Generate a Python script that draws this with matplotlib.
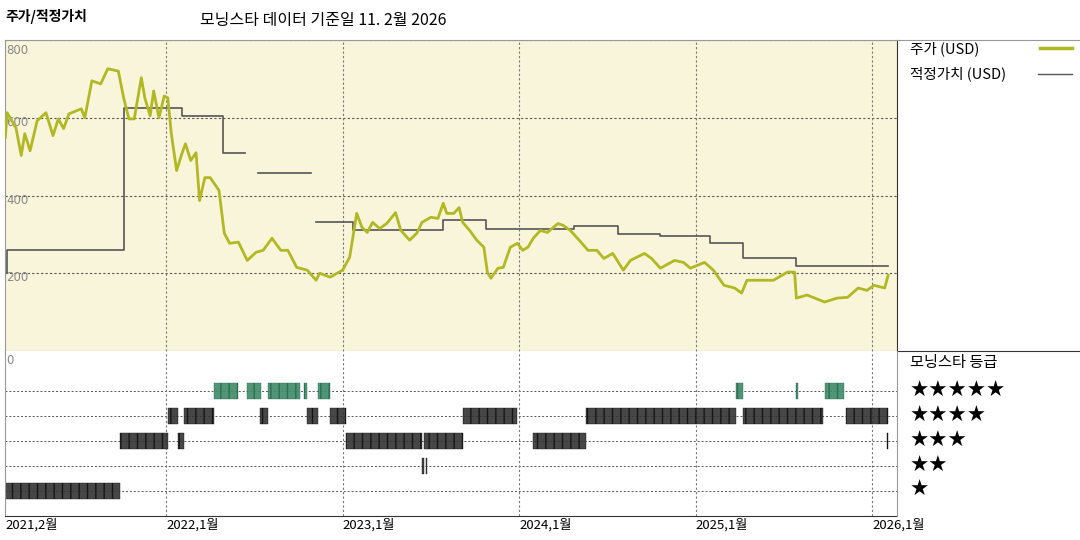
import matplotlib
matplotlib.use("Agg")
import matplotlib.pyplot as plt
from matplotlib.lines import Line2D

plt.rcParams['font.family'] = ['Noto Sans CJK KR', 'DejaVu Sans']

# ---- data (decimal years / USD) ----
price_t = [2021.09,2021.10,2021.15,2021.18,2021.20,2021.23,2021.27,2021.32,2021.36,2021.39,2021.42,2021.45,
           2021.52,2021.54,2021.58,2021.63,2021.67,2021.73,2021.76,2021.79,2021.82,2021.86,2021.88,2021.91,
           2021.93,2021.96,2021.99,2022.01,2022.03,2022.06,2022.09,2022.11,2022.14,2022.17,2022.19,2022.22,
           2022.25,2022.30,2022.33,2022.36,2022.41,2022.46,2022.51,2022.55,2022.60,2022.65,2022.69,2022.74,
           2022.80,2022.85,2022.87,2022.93,2023.00,2023.04,2023.08,2023.11,2023.14,2023.17,2023.21,2023.25,
           2023.30,2023.33,2023.38,2023.42,2023.45,2023.50,2023.54,2023.57,2023.59,2023.63,2023.66,2023.68,
           2023.72,2023.76,2023.80,2023.82,2023.84,2023.88,2023.91,2023.95,2023.99,2024.02,2024.05,2024.08,
           2024.12,2024.16,2024.22,2024.25,2024.29,2024.34,2024.39,2024.44,2024.48,2024.53,2024.59,2024.63,
           2024.71,2024.75,2024.80,2024.88,2024.93,2024.97,2025.05,2025.10,2025.16,2025.22,2025.26,2025.29,
           2025.37,2025.44,2025.52,2025.56,2025.57,2025.63,2025.73,2025.80,2025.86,2025.92,2025.97,2026.01,
           2026.07,2026.09]
price = [549,613,574,503,559,515,592,613,554,597,572,610,
         623,600,695,687,726,720,651,597,597,703,651,605,
         669,600,656,651,559,464,508,533,490,510,387,446,
         446,413,303,277,280,233,254,259,290,259,259,215,
         208,182,200,190,208,241,354,318,305,331,315,328,
         356,310,285,303,331,344,341,380,354,354,369,331,
         310,285,267,203,187,213,215,267,277,259,267,290,
         310,305,328,323,310,285,259,259,238,251,208,233,
         251,238,213,233,228,213,228,208,169,162,149,182,
         182,182,203,203,136,144,126,136,138,162,156,169,
         162,195]

fv_start = [2021.09,2021.10,2021.76,2022.09,2022.32,2022.52,2022.85,2023.06,2023.57,2023.81,2024.31,2024.56,2024.80,2025.08,2025.27,2025.57]
fv_end   = [2021.10,2021.76,2022.09,2022.32,2022.45,2022.82,2023.06,2023.57,2023.81,2024.31,2024.56,2024.80,2025.08,2025.27,2025.57,2026.09]
fv_value = [200,259,626,605,510,459,331,310,338,315,321,300,295,279,238,218]

rating_1 = [(2021.08, 2021.74)]
rating_2 = [(2023.45, 2023.46), (2023.47, 2023.48)]
rating_3 = [(2021.74, 2022.01), (2022.07, 2022.10), (2023.02, 2023.45), (2023.46, 2023.68),
            (2024.08, 2024.38), (2026.085, 2026.09)]
rating_4 = [(2022.01, 2022.07), (2022.10, 2022.27), (2022.53, 2022.58), (2022.80, 2022.86),
            (2022.93, 2023.02), (2023.68, 2023.99), (2024.38, 2025.23), (2025.27, 2025.72),
            (2025.85, 2026.09)]
rating_5 = [(2022.27, 2022.41), (2022.46, 2022.54), (2022.58, 2022.76), (2022.78, 2022.80),
            (2022.86, 2022.93), (2025.23, 2025.27), (2025.57, 2025.58), (2025.73, 2025.84)]

year_ticks = [2021.09, 2022.0, 2023.0, 2024.0, 2025.0, 2026.0]
year_labels = ["2021,2월", "2022,1월", "2023,1월", "2024,1월", "2025,1월", "2026,1월"]
price_ticks = [200, 400, 600, 800]

W, H = 1080, 540
XMIN, XMAX = 2021.088, 2026.14
PRICE_C = "#b2b823"; FV_C = "#555555"; BG = "#f9f5da"; GRID = "#555555"

fig = plt.figure(figsize=(W/100, H/100), dpi=100)
ax = fig.add_axes([5/W, 1-351/H, 892/W, 311/H])
ax2 = fig.add_axes([5/W, 1-516/H, 892/W, 165/H])

# price panel
ax.set_facecolor(BG)
ax.set_xlim(XMIN, XMAX); ax.set_ylim(0, 800)
for y in price_ticks:
    ax.axhline(y, color=GRID, lw=0.8, ls=(0, (2, 2)), zorder=1)
    ax.text(XMIN+0.005, y - (12 if y < 800 else 28), str(y), color="#888", fontsize=8.5,
            ha="left", va="center", family="DejaVu Sans")
for t in year_ticks[1:]:
    ax.axvline(t, color="#777", lw=0.8, ls=(0, (2, 2)), zorder=1)
ax.plot(price_t, price, color=PRICE_C, lw=2.0, zorder=3)
# fair value as stepped pieces
seg_x, seg_y = [], []
for s, e, v in zip(fv_start, fv_end, fv_value):
    if seg_x and abs(seg_x[-1] - s) > 1e-6:
        ax.plot(seg_x, seg_y, color=FV_C, lw=1.2, zorder=2); seg_x, seg_y = [], []
    seg_x += [s, e]; seg_y += [v, v]
ax.plot(seg_x, seg_y, color=FV_C, lw=1.2, zorder=2)
ax.set_xticks([]); ax.set_yticks([])
for sp in ax.spines.values():
    sp.set_color("#999"); sp.set_lw(0.8)
ax.spines["right"].set_color("#333")

# rating panel
ax2.set_xlim(XMIN, XMAX); ax2.set_ylim(0, 6.6)
rows = [(rating_1, 1, "#333333"), (rating_2, 2, "#333333"), (rating_3, 3, "#333333"),
        (rating_4, 4, "#333333"), (rating_5, 5, "#3e8a68")]
for segs, r, c in rows:
    ax2.axhline(r, color=GRID, lw=0.7, ls=(0, (2, 2)), zorder=1)
    ax2.broken_barh([(a, b - a) for a, b in segs], (r - 0.33, 0.66), facecolor=c,
                    edgecolor="#111111" if r < 5 else "#2a6a4e", lw=0.3, hatch="||", alpha=0.9, zorder=2)
for t in year_ticks[1:]:
    ax2.axvline(t, color="#777", lw=0.8, ls=(0, (2, 2)), zorder=1)
ax2.text(XMIN+0.005, 6.2, "0", color="#888", fontsize=8.5, ha="left", va="center", family="DejaVu Sans")
ax2.set_yticks([])
ax2.set_xticks(year_ticks)
ax2.set_xticklabels(year_labels, ha="left", fontsize=9.5)
ax2.tick_params(axis="x", length=0, pad=2)
for sp in ["top", "right"]:
    ax2.spines[sp].set_visible(False)
ax2.spines["left"].set_color("#999"); ax2.spines["bottom"].set_color("#333")

# right side frame lines
fig.add_artist(Line2D([897/W, 1], [1-40/H, 1-40/H], color="#999", lw=0.8))
fig.add_artist(Line2D([897/W, 1], [1-351/H, 1-351/H], color="#333", lw=0.8))
fig.add_artist(Line2D([897/W, 897/W], [1-516/H, 1-351/H], color="#999", lw=0.8))

# titles & legend
fig.text(5/W, 1-17/H, "주가/적정가치", fontsize=10, fontweight="bold", va="center")
fig.text(200/W, 1-20/H, "모닝스타 데이터 기준일 11. 2월 2026", fontsize=11.5, va="center")
fig.text(910/W, 1-49/H, "주가 (USD)", fontsize=10.5, va="center")
fig.add_artist(Line2D([1040/W, 1072/W], [1-48/H, 1-48/H], color=PRICE_C, lw=2.5))
fig.text(910/W, 1-74/H, "적정가치 (USD)", fontsize=10.5, va="center")
fig.add_artist(Line2D([1038/W, 1072/W], [1-74/H, 1-74/H], color=FV_C, lw=1))
fig.text(910/W, 1-362/H, "모닝스타 등급", fontsize=11, va="center")
for n, y in zip([5, 4, 3, 2, 1], [391, 416, 441, 466, 490]):
    fig.text(910/W, 1-y/H, "★" * n, fontsize=15.5, va="center",
             family=["DejaVu Sans", "Noto Sans CJK KR"])

fig.savefig("out.png", dpi=100)
